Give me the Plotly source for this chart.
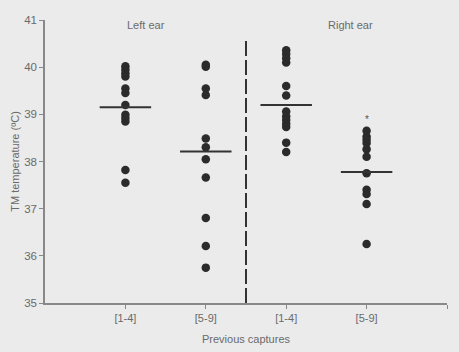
import plotly.graph_objects as go

categories = ["[1-4]", "[5-9]", "[1-4]", "[5-9]"]
positions = [1, 2, 3, 4]
left_1_4 = [40.02, 39.95, 39.87, 39.80, 39.55, 39.45, 39.20, 38.99, 38.92, 38.85, 37.82, 37.55]
left_5_9 = [40.05, 40.01, 39.55, 39.41, 38.49, 38.30, 38.05, 37.66, 36.80, 36.21, 35.75]
right_1_4 = [40.36, 40.28, 40.19, 40.10, 39.60, 39.40, 39.06, 38.96, 38.88, 38.80, 38.73, 38.40, 38.20]
right_5_9 = [38.65, 38.53, 38.46, 38.39, 38.26, 38.10, 37.75, 37.40, 37.31, 37.10, 36.25]
means = [39.15, 38.21, 39.20, 37.78]
groups = [left_1_4, left_5_9, right_1_4, right_5_9]
star_y = 38.9

bg = "#ebebeb"
ink = "#2b2b2b"
txt = "#6a6a6a"
font = "Liberation Sans, Arial, sans-serif"

fig = go.Figure()
for pos, vals in zip(positions, groups):
    fig.add_trace(go.Scatter(x=[pos] * len(vals), y=vals, mode="markers",
                             marker=dict(size=8.5, color=ink), showlegend=False,
                             hoverinfo="y"))
half = 0.32
for pos, m in zip(positions, means):
    fig.add_trace(go.Scatter(x=[pos - half, pos + half], y=[m, m], mode="lines",
                             line=dict(color="#333333", width=2), showlegend=False))

fig.add_annotation(x=4, y=star_y, text="*", showarrow=False,
                   font=dict(size=10, color="#555555", family=font))
fig.add_annotation(x=1.25, y=40.9, text="Left ear", showarrow=False,
                   font=dict(size=11, color=txt, family=font))
fig.add_annotation(x=3.8, y=40.9, text="Right ear", showarrow=False,
                   font=dict(size=11, color=txt, family=font))

fig.add_shape(type="line", x0=2.5, x1=2.5, y0=35, y1=40.64, xref="x", yref="y",
              line=dict(color="#333333", width=2, dash="15px,4px"))

fig.update_layout(
    width=459, height=352,
    margin=dict(l=45, r=12, t=20, b=49),
    paper_bgcolor=bg, plot_bgcolor=bg,
    font=dict(family=font, size=11, color=txt),
    xaxis=dict(range=[0, 5], tickvals=[1, 2, 3, 4, 5], automargin=False,
               ticktext=categories + [""], showgrid=False, zeroline=False,
               showline=True, linecolor="#888888", linewidth=1.5,
               ticks="outside", ticklen=4, tickcolor="#888888",
               title=dict(text="Previous captures", standoff=12,
                          font=dict(size=11, color=txt))),
    yaxis=dict(range=[35, 41], tickvals=[35, 36, 37, 38, 39, 40, 41],
               automargin=False,
               showgrid=False, zeroline=False, showline=True,
               linecolor="#888888", linewidth=1.5, ticks="outside", ticklen=4,
               tickcolor="#888888", tickfont=dict(size=11.5),
               title=dict(text="TM temperature (ºC)", standoff=2,
                          font=dict(size=11, color=txt))),
)

fig.write_html("out.html")
